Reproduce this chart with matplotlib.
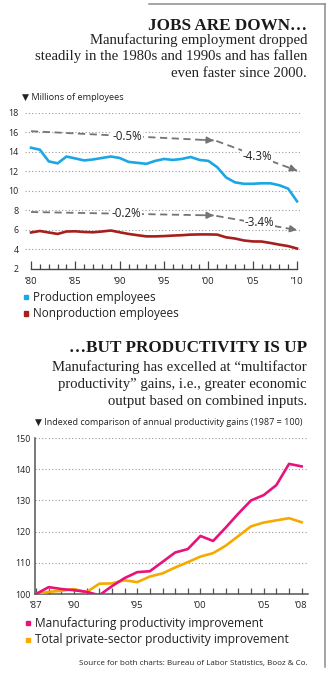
import matplotlib.pyplot as plt
from matplotlib.patches import Rectangle
from matplotlib.lines import Line2D

W, H = 330, 677

# manufacturing employment, millions
years_jobs = list(range(1980, 2011))
production = [14.4, 14.2, 13.0, 12.8, 13.5, 13.3, 13.1, 13.2, 13.35, 13.5,
              13.35, 12.95, 12.85, 12.75, 13.05, 13.25, 13.15, 13.25, 13.45, 13.15,
              13.05, 12.4, 11.35, 10.85, 10.7, 10.7, 10.75, 10.75, 10.55, 10.2,
              8.9]
nonproduction = [5.7, 5.85, 5.7, 5.55, 5.8, 5.82, 5.75, 5.72, 5.8, 5.9,
                 5.72, 5.55, 5.42, 5.3, 5.3, 5.33, 5.38, 5.42, 5.48, 5.5,
                 5.5, 5.48, 5.2, 5.08, 4.88, 4.78, 4.77, 4.62, 4.45, 4.3,
                 4.05]
jobs_yticks = [2, 4, 6, 8, 10, 12, 14, 16, 18]
jobs_xticks = [1980, 1985, 1990, 1995, 2000, 2005, 2010]
jobs_xlabels = ["’80", "’85", "’90", "’95", "’00", "’05", "’10"]
trend_labels = ["-0.5%", "-4.3%", "-0.2%", "-3.4%"]

# multifactor productivity index, 1987 = 100
years_prod = list(range(1987, 2009))
manufacturing = [100.0, 102.2, 101.6, 101.2, 100.7, 99.6, 102.5, 105.1, 107.0, 107.3,
                 110.3, 113.3, 114.4, 118.6, 117.0, 121.3, 125.8, 130.0, 131.7, 134.9,
                 141.7, 140.9]
private_sector = [100.0, 100.7, 101.0, 101.6, 100.6, 103.3, 103.4, 104.4, 103.8, 105.6,
                  106.6, 108.5, 110.2, 112.0, 113.1, 115.5, 118.6, 121.7, 122.9, 123.6,
                  124.3, 123.0]
prod_yticks = [100, 110, 120, 130, 140, 150]
prod_xticks = [1987, 1990, 1995, 2000, 2005, 2008]
prod_xlabels = ["’87", "’90", "’95", "’00", "’05", "’08"]

BLUE = '#1ba6e4'
RED = '#a61f1c'
PINK = '#e8127c'
GOLD = '#f6aa00'
GRID = '#9a9a9a'
ARROW = '#747474'
SANS = ['Open Sans', 'DejaVu Sans']
SERIF = 'Liberation Serif'


def fx(px):
    return px / W


def fy(py):
    return 1 - py / H


def rect(left, top, right, bottom):
    return [fx(left), fy(bottom), fx(right) - fx(left), fy(top) - fy(bottom)]


fig = plt.figure(figsize=(W / 100, H / 100), dpi=100)
fig.patch.set_facecolor('white')

# box edge top/right
fig.add_artist(Line2D([fx(149), fx(325)], [fy(4), fy(4)], color='#8c8c8c', lw=1.1))
fig.add_artist(Line2D([fx(325), fx(325)], [fy(4), fy(667)], color='#8c8c8c', lw=1.1))

# ---------- jobs chart ----------
fig.text(fx(307), fy(30), "JOBS ARE DOWN…", ha='right', va='baseline',
         fontsize=12.3, fontweight='bold', family=SERIF, color='#1a1a1a')
for i, line in enumerate(["Manufacturing employment dropped",
                          "steadily in the 1980s and 1990s and has fallen",
                          "even faster since 2000."]):
    fig.text(fx(307), fy(44 + i * 16.3), line, ha='right', va='baseline',
             fontsize=10.6, family=SERIF, color='#222222')
fig.text(fx(22), fy(99.5), "▼ Millions of employees", ha='left', va='baseline',
         fontsize=6.6, family=SANS, color='#222222')

ax1 = fig.add_axes(rect(25, 112.7, 302, 268.5))
ax1.plot(years_jobs, production, color=BLUE, lw=1.9, solid_joinstyle='round', zorder=3)
ax1.plot(years_jobs, nonproduction, color=RED, lw=1.9, solid_joinstyle='round', zorder=3)
ax1.set_xlim(1979.32, 2010.56)
ax1.set_ylim(2, 18)
for v in jobs_yticks[1:]:
    ax1.axhline(v, color=GRID, lw=0.8, linestyle=(0, (1, 2)), zorder=1)
for s in ['left', 'right', 'top']:
    ax1.spines[s].set_visible(False)
ax1.spines['bottom'].set_bounds(1980, 2010)
ax1.spines['bottom'].set_color('#444444')
ax1.spines['bottom'].set_linewidth(1.0)
ax1.set_yticks(jobs_yticks)
ax1.set_yticklabels([str(v) for v in jobs_yticks], fontsize=6.4, family=SANS, color='#222222')
ax1.tick_params(axis='y', length=0, pad=4.5)
ax1.set_xticks(jobs_xticks)
ax1.set_xticklabels(jobs_xlabels, fontsize=6.8, family=SANS, color='#222222')
ax1.set_xticks(years_jobs, minor=True)
ax1.tick_params(axis='x', which='major', direction='in', length=6, width=0.9,
                color='#444444', pad=6)
ax1.tick_params(axis='x', which='minor', direction='in', length=3.5, width=0.9,
                color='#444444')


def trend(ax, start, end, label, at):
    ax.plot([start[0], end[0]], [start[1], end[1]], color=ARROW, lw=1.3,
            linestyle=(0, (4, 2.5)), zorder=2)
    dx = (end[0] - start[0]) * 0.06
    dy = (end[1] - start[1]) * 0.06
    ax.annotate('', xy=end, xytext=(end[0] - dx, end[1] - dy),
                arrowprops=dict(arrowstyle='-|>', color=ARROW, lw=1.2,
                                mutation_scale=10, shrinkA=0, shrinkB=0), zorder=2)
    ax.text(at[0], at[1], label, ha='center', va='center', fontsize=8.3,
            family=SANS, color='#222222', zorder=4,
            bbox=dict(facecolor='white', edgecolor='none', pad=0.6))


trend(ax1, (1980, 16.1), (2000.6, 15.15), trend_labels[0], (1990.9, 15.6))
trend(ax1, (2000.9, 15.1), (2010, 12.05), trend_labels[1], (2005.5, 13.55))
trend(ax1, (1980, 7.8), (2000.6, 7.45), trend_labels[2], (1990.8, 7.6))
trend(ax1, (2000.9, 7.4), (2010, 5.95), trend_labels[3], (2005.8, 6.7))

for i, (name, col) in enumerate([("Production employees", BLUE),
                                 ("Nonproduction employees", RED)]):
    y = 297 + i * 16.5
    fig.add_artist(Rectangle((fx(23.5), fy(y + 2.2)), fx(4.4), fy(0) - fy(4.4),
                             color=col, transform=fig.transFigure))
    fig.text(fx(33), fy(y), name, ha='left', va='center', fontsize=8.5,
             family=SANS, color='#222222')

# ---------- productivity chart ----------
fig.text(fx(307), fy(351.5), "…BUT PRODUCTIVITY IS UP", ha='right', va='baseline',
         fontsize=12.3, fontweight='bold', family=SERIF, color='#1a1a1a')
for i, line in enumerate(["Manufacturing has excelled at “multifactor",
                          "productivity” gains, i.e., greater economic",
                          "output based on combined inputs."]):
    fig.text(fx(307), fy(371.5 + i * 16.7), line, ha='right', va='baseline',
             fontsize=10.6, family=SERIF, color='#222222')
fig.text(fx(35), fy(425), "▼ Indexed comparison of annual productivity gains (1987 = 100)",
         ha='left', va='baseline', fontsize=6.5, family=SANS, color='#222222')

ax2 = fig.add_axes(rect(35, 438, 308, 594))
ax2.plot(years_prod, private_sector, color=GOLD, lw=1.9, solid_joinstyle='round', zorder=3)
ax2.plot(years_prod, manufacturing, color=PINK, lw=1.9, solid_joinstyle='round', zorder=3)
ax2.set_xlim(1986.92, 2008.5)
ax2.set_ylim(100, 150)
for v in prod_yticks[1:]:
    ax2.axhline(v, color=GRID, lw=0.8, linestyle=(0, (1, 2)), zorder=1)
for s in ['right', 'top']:
    ax2.spines[s].set_visible(False)
for s in ['left', 'bottom']:
    ax2.spines[s].set_color('#555555')
    ax2.spines[s].set_linewidth(1.1)
ax2.set_yticks(prod_yticks)
ax2.set_yticklabels([str(v) for v in prod_yticks], fontsize=6.4, family=SANS, color='#222222')
ax2.tick_params(axis='y', length=0, pad=3)
ax2.set_xticks(prod_xticks)
ax2.set_xticklabels(prod_xlabels, fontsize=6.8, family=SANS, color='#222222')
ax2.set_xticks(years_prod, minor=True)
ax2.tick_params(axis='x', which='both', direction='in', length=4, width=0.9,
                color='#555555', pad=5)

for i, (name, col) in enumerate([("Manufacturing productivity improvement", PINK),
                                 ("Total private-sector productivity improvement", GOLD)]):
    y = 623 + i * 17
    fig.add_artist(Rectangle((fx(26), fy(y + 2.2)), fx(4.4), fy(0) - fy(4.4),
                             color=col, transform=fig.transFigure))
    fig.text(fx(35), fy(y), name, ha='left', va='center', fontsize=8.6,
             family=SANS, color='#222222')

fig.text(fx(308), fy(663), "Source for both charts: Bureau of Labor Statistics, Booz & Co.",
         ha='right', va='center', fontsize=5.8, family=SANS, color='#222222')

fig.savefig('out.png', dpi=100)
